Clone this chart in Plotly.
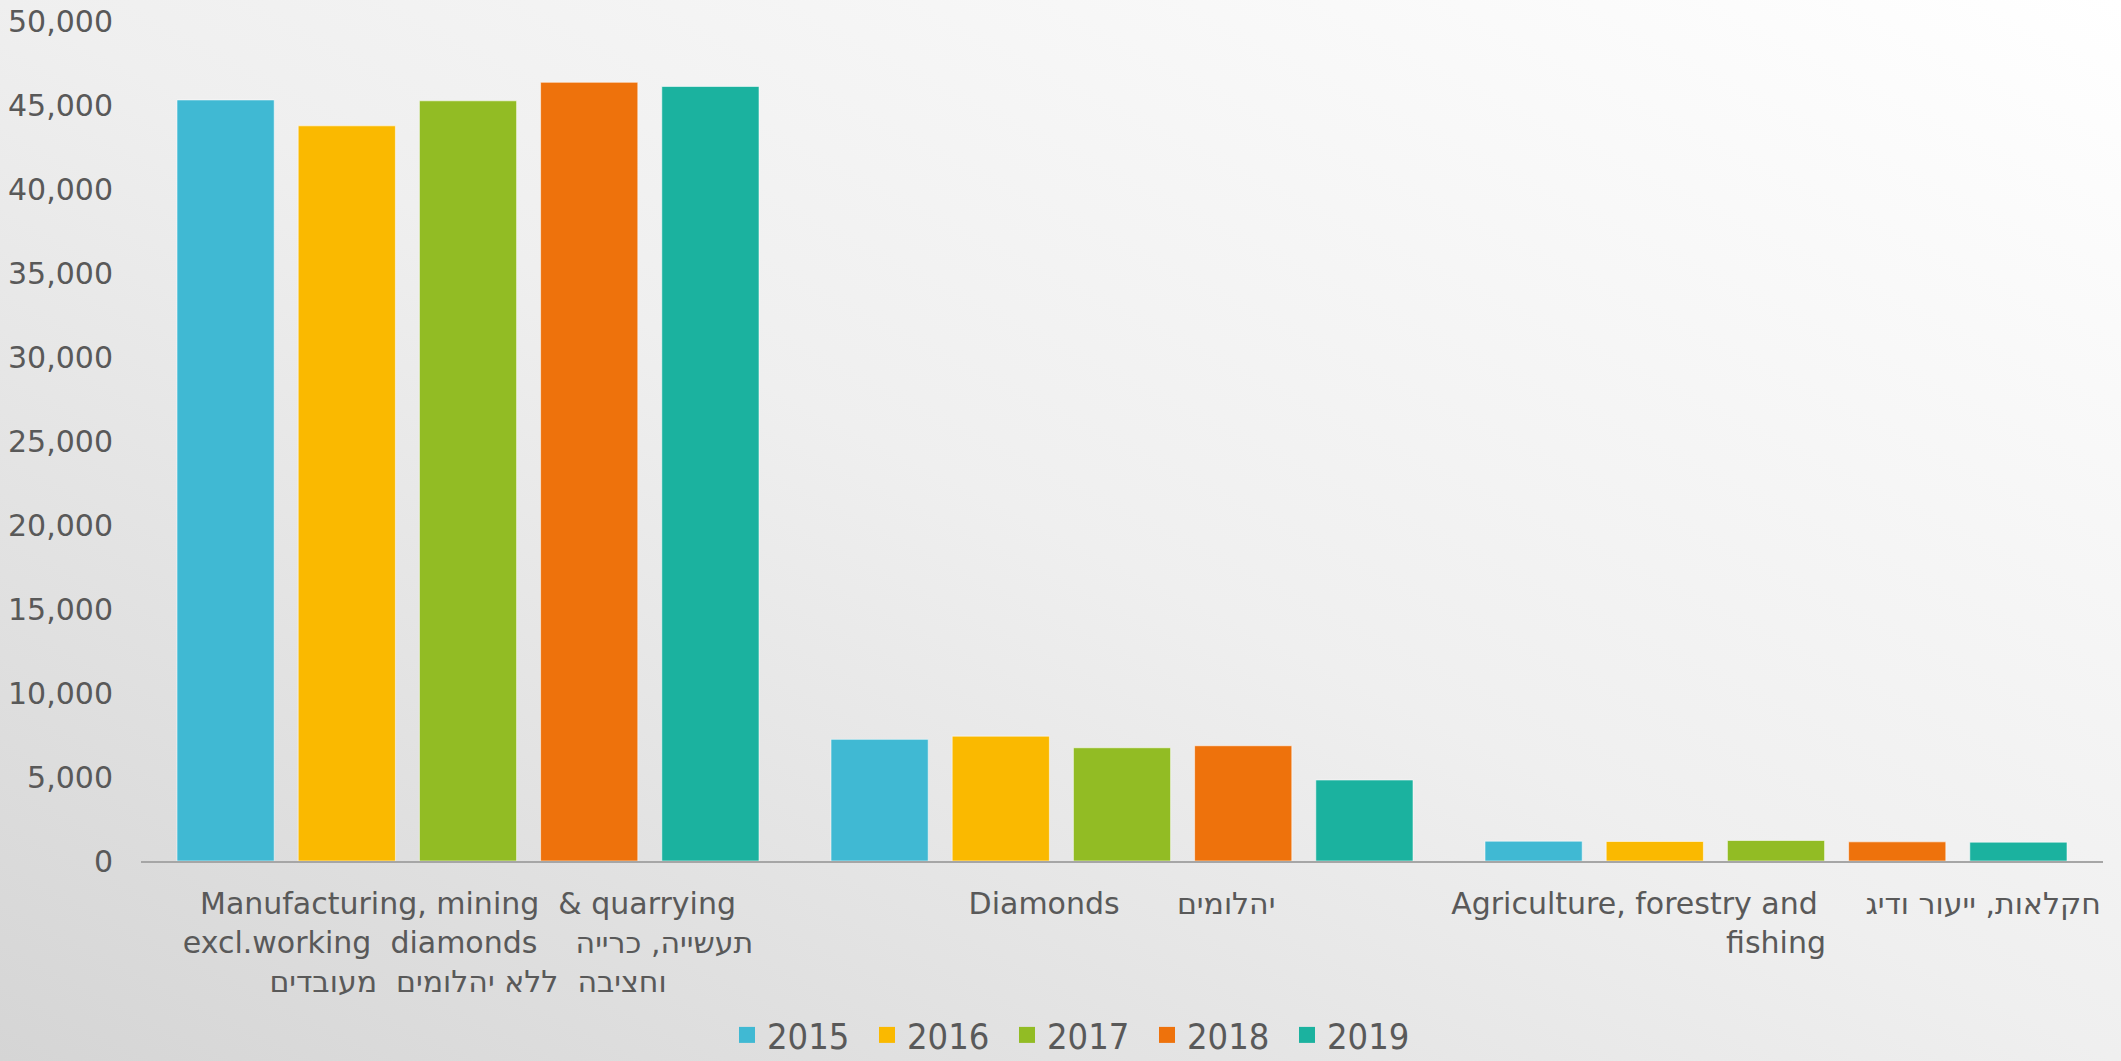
import base64
import plotly.graph_objects as go

NB = "\u00a0"

categories = [
    "Manufacturing, mining" + NB + " & quarrying<br>"
    + "excl.working" + NB + " diamonds" + NB * 3 + " תעשייה, כרייה<br>"
    + "וחציבה" + NB + " ללא יהלומים" + NB + " מעובדים",
    "Diamonds" + NB * 5 + " יהלומים",
    "Agriculture, forestry and" + NB * 4 + " חקלאות, ייעור ודיג<br>fishing",
]
years = ["2015", "2016", "2017", "2018", "2019"]
v2015 = [45300, 7240, 1180]
v2016 = [43760, 7430, 1160]
v2017 = [45250, 6740, 1220]
v2018 = [46350, 6860, 1140]
v2019 = [46100, 4820, 1120]
series = [v2015, v2016, v2017, v2018, v2019]
colors = ["#40B9D3", "#FAB900", "#92BC24", "#EE720C", "#1BB29F"]

W, H = 2121, 1061
ML, MR, MT, MB = 141, 18, 21, 200
pw, ph = W - ML - MR, H - MT - MB

fig = go.Figure()
for yr, vals, col in zip(years, series, colors):
    fig.add_trace(go.Bar(
        x=categories, y=vals, name=yr, marker_color=col,
        marker_line=dict(color="rgba(255,255,255,0.55)", width=1),
        showlegend=False, legendgroup=yr,
    ))
for yr, col in zip(years, colors):
    fig.add_trace(go.Scatter(
        x=[None], y=[None], mode="markers", name=yr, legendgroup=yr,
        marker=dict(symbol="square", size=20, color=col),
    ))

svg = (
    f'<svg xmlns="http://www.w3.org/2000/svg" width="{W}" height="{H}" '
    f'viewBox="0 0 {W} {H}" preserveAspectRatio="none">'
    '<defs><linearGradient id="g" x1="0" y1="1" x2="1" y2="0">'
    '<stop offset="0" stop-color="#d5d5d5"/>'
    '<stop offset="0.5" stop-color="#efefef"/>'
    '<stop offset="1" stop-color="#ffffff"/>'
    '</linearGradient></defs>'
    f'<rect width="{W}" height="{H}" fill="url(#g)"/></svg>'
)
src = "data:image/svg+xml;base64," + base64.b64encode(svg.encode()).decode()

fig.update_layout(
    width=W, height=H,
    margin=dict(l=ML, r=MR, t=MT, b=MB, pad=0, autoexpand=False),
    paper_bgcolor="#ffffff", plot_bgcolor="rgba(0,0,0,0)",
    barmode="group", bargap=0.0734, bargroupgap=0.198,
    font=dict(family="DejaVu Sans", color="#595959"),
    images=[dict(
        source=src, xref="paper", yref="paper",
        x=-ML / pw, y=1 + MT / ph, sizex=W / pw, sizey=H / ph,
        xanchor="left", yanchor="top", sizing="stretch", layer="below",
    )],
    xaxis=dict(
        showline=True, linecolor="#a6a6a6", linewidth=2, automargin=False,
        showgrid=False, zeroline=False, ticks="", tickangle=0,
        ticklabelstandoff=15,
        tickfont=dict(family="DejaVu Sans", size=30, color="#595959"),
    ),
    yaxis=dict(
        range=[0, 50000], tickvals=list(range(0, 50001, 5000)),
        tickformat=",", showgrid=False, zeroline=False, showline=False,
        ticks="", ticklabelstandoff=27, automargin=False,
        tickfont=dict(family="DejaVu Sans", size=30, color="#595959"),
    ),
    legend=dict(
        orientation="h",
        x=(1077 - ML) / pw, xanchor="center",
        y=(H - MB - 1035) / ph, yanchor="middle",
        font=dict(family="DejaVu Sans Condensed", size=36, color="#595959"),
        entrywidth=95, entrywidthmode="pixels",
        bgcolor="rgba(0,0,0,0)",
    ),
)

fig.write_html(
    "out.html",
    config={"displayModeBar": False},
    post_script="document.body.style.margin='0px';",
)
